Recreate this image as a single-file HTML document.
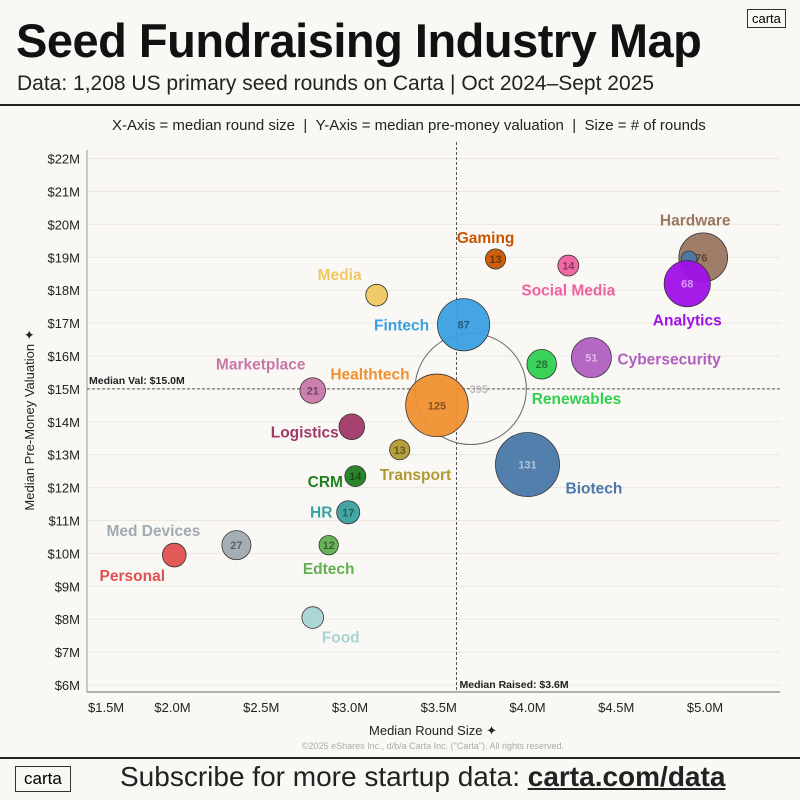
<!DOCTYPE html>
<html><head><meta charset="utf-8">
<style>
body{margin:0;background:#faf8f4;font-family:"Liberation Sans",sans-serif;}
#wrap{position:relative;width:800px;height:800px;overflow:hidden;background:#faf8f4;}
.t{position:absolute;white-space:nowrap;}
</style></head><body>
<div id="wrap">
<div class="t" style="left:16px;top:13px;font-size:47px;font-weight:bold;letter-spacing:-0.5px;color:#111;">Seed Fundraising Industry Map</div>
<div class="t" style="left:17px;top:72px;font-size:21px;color:#222;">Data: 1,208 US primary seed rounds on Carta | Oct 2024–Sept 2025</div>
<div class="t" style="left:747px;top:9px;border:1px solid #333;padding:0 4px;font-size:13px;line-height:17px;">carta</div>
<div style="position:absolute;left:0;top:104px;width:800px;height:2px;background:#222;"></div>
<div class="t" style="left:112px;top:117px;font-size:15px;color:#222;">X-Axis = median round size&nbsp; | &nbsp;Y-Axis = median pre-money valuation&nbsp; | &nbsp;Size = # of rounds</div>
<svg id="chart" width="800" height="800" style="position:absolute;left:0;top:0;" font-family="Liberation Sans, sans-serif"></svg>
<div style="position:absolute;left:0;top:757px;width:800px;height:2px;background:#222;"></div>
<div class="t" style="left:15px;top:766px;border:1.5px solid #333;padding:0 8px;font-size:17px;line-height:24px;">carta</div>
<div class="t" style="left:120px;top:761px;font-size:28px;color:#222;">Subscribe for more startup data: <span style="font-weight:bold;text-decoration:underline;">carta.com/data</span></div>
</div>
<script>
const names=["Hardware","","Analytics","Gaming","Social Media","Media","Fintech","Cybersecurity","Renewables","Marketplace","All","Healthtech","Biotech","Logistics","Transport","CRM","HR","Edtech","Med Devices","Personal","Food"];
const roundSize=[4.99,4.91,4.90,3.82,4.23,3.15,3.64,4.36,4.08,2.79,3.68,3.49,4.00,3.01,3.28,3.03,2.99,2.88,2.36,2.01,2.79];
const valuation=[19.0,18.95,18.2,18.95,18.75,17.85,16.95,15.95,15.75,14.95,15.0,14.5,12.7,13.85,13.15,12.35,11.25,10.25,10.25,9.95,8.05];
const rounds=[76,8,68,13,14,15,87,51,28,21,395,125,131,21,13,14,17,12,27,18,15];
const shownCounts=["76","","68","13","14","","87","51","28","21","395","125","131","","13","14","17","12","27","",""];
const yTicks=[6,7,8,9,10,11,12,13,14,15,16,17,18,19,20,21,22];
const xTicks=[1.5,2.0,2.5,3.0,3.5,4.0,4.5,5.0];
const medianX=3.6, medianY=15.0;
const colors=["#9b7660","#4a78a8","#a010e8","#c95500","#f060a0","#f0c860","#3aa0e0","#b060c0","#30d050","#c878a8","none","#f09030","#4a78a8","#a03868","#b09a30","#208020","#3aa0a0","#60b050","#a0aab0","#e05050","#a8d4d4"];
const labelOff=[[-8,-38,"middle"],null,[0,36,"middle"],[-10,-22,"middle"],[0,24,"middle"],[-37,-21,"middle"],[-62,0,"middle"],[26,1,"start"],[-10,34,"start"],[-52,-27,"middle"],null,[-67,-32,"middle"],[38,23,"start"],[-47,5,"middle"],[-20,24,"start"],[-30,5,"middle"],[-27,-1,"middle"],[0,23,"middle"],[-83,-15,"middle"],[-42,20,"middle"],[28,19,"middle"]];
const X=v=>350+(v-3)*177.5, Y=v=>685-(v-6)*32.9, R=n=>2.8*Math.sqrt(n);
const svg=document.getElementById('chart'), NS='http://www.w3.org/2000/svg';
function mk(tag,a,txt){const e=document.createElementNS(NS,tag);for(const k in a)e.setAttribute(k,a[k]);if(txt!==undefined)e.textContent=txt;svg.appendChild(e);return e;}
yTicks.forEach(t=>{
 const g=mk('line',{x1:88,x2:780,y1:Y(t),y2:Y(t),stroke:'#ebe7e0','stroke-width':1});
 
 
 const l=mk('text',{x:80,y:Y(t)+5,'text-anchor':'end','font-size':13,fill:'#222'},'$'+t+'M');
 
 
});
xTicks.forEach((t,i)=>{
 const l=mk('text',{x:i==0?88:X(t),y:712,'text-anchor':i==0?'start':'middle','font-size':13,fill:'#222'},'$'+t.toFixed(1)+'M');
 
 
});
let a=mk('line',{x1:87,x2:87,y1:150,y2:692,stroke:'#999','stroke-width':1});


a=mk('line',{x1:87,x2:780,y1:692,y2:692,stroke:'#999','stroke-width':1.5});


a=mk('line',{x1:X(medianX),x2:X(medianX),y1:142,y2:692,stroke:'#555','stroke-width':1,'stroke-dasharray':'3,2'});


a=mk('line',{x1:87,x2:780,y1:Y(medianY),y2:Y(medianY),stroke:'#555','stroke-width':1,'stroke-dasharray':'3,2'});


a=mk('text',{x:89,y:Y(medianY)-5,'font-size':10.5,'font-weight':'bold',fill:'#222'},'Median Val: $'+medianY.toFixed(1)+'M');


a=mk('text',{x:X(medianX)+3,y:688,'font-size':10.5,'font-weight':'bold',fill:'#222'},'Median Raised: $'+medianX.toFixed(1)+'M');


a=mk('text',{x:433,y:735,'text-anchor':'middle','font-size':13,fill:'#222'},'Median Round Size ✦');


a=mk('text',{x:34,y:420,'text-anchor':'middle','font-size':13,fill:'#222',transform:'rotate(-90 34 420)'},'Median Pre-Money Valuation ✦');


a=mk('text',{x:433,y:749,'text-anchor':'middle','font-size':9,fill:'#aaa'},'©2025 eShares Inc., d/b/a Carta Inc. ("Carta"). All rights reserved.');


const order=[10,0,1,2,3,4,5,6,7,8,9,11,12,13,14,15,16,17,18,19,20];
order.forEach(i=>{
 const cx=X(roundSize[i]),cy=Y(valuation[i]),r=R(rounds[i]);
 const c=mk('circle',{cx,cy,r,fill:colors[i],stroke:i==10?'#666':'#333','stroke-width':i==10?1:0.8,'fill-opacity':i==10?0:0.95});
 
 
 if(shownCounts[i]){
  const t=mk('text',{x:cx+(i==0?-2:i==10?8:0),y:cy+4,'text-anchor':'middle','font-size':11,'font-weight':'bold',fill:i==10?'#bbb':'rgba(0,0,0,0.45)'},shownCounts[i]);
  if(i==12||i==2||i==7)t.setAttribute('fill','rgba(255,255,255,0.55)');
  
  
 }
});
names.forEach((n,i)=>{
 if(!n||!labelOff[i]||i==10)return;
 const o=labelOff[i];
 const t=mk('text',{x:X(roundSize[i])+o[0],y:Y(valuation[i])+o[1]+6,'text-anchor':o[2],'font-size':15.5,'font-weight':'bold',fill:colors[i]},n);
 
 
});
</script>
</body></html>
